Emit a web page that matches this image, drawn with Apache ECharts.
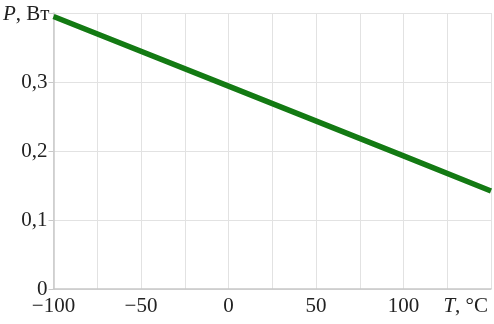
<!DOCTYPE html>
<html><head><meta charset="utf-8">
<script src="https://cdn.jsdelivr.net/npm/echarts@6/dist/echarts.min.js"></script>
<style>html,body{margin:0;padding:0;background:#fff}#c{width:494px;height:324px}</style>
</head><body><div id="c"></div>
<script>
const temps = [-100, 0, 100, 150];
const power = [0.395, 0.294, 0.193, 0.142];
const xLabelValues = [-100, -50, 0, 50, 100];
const yLabelValues = [0, 0.1, 0.2, 0.3];

const chart = echarts.init(document.getElementById('c'), null, {renderer: 'canvas'});
const font = 'Liberation Serif';
const fs = 21;
chart.setOption({
  animation: false,
  grid: {left: 53, right: 3, top: 13, bottom: 35, containLabel: false},
  xAxis: {
    type: 'value', min: -100, max: 150, interval: 25,
    name: '{i|T}, °C', nameLocation: 'end', nameGap: -3,
    nameTextStyle: {fontFamily: font, fontSize: fs, color: '#222', align: 'right', verticalAlign: 'top', padding: [7, 0, 0, 0],
      rich: {i: {fontFamily: font, fontSize: fs, fontStyle: 'italic', color: '#222'}}},
    axisLine: {show: true, onZero: false, lineStyle: {color: '#c8c8c8', width: 1.5}},
    axisTick: {show: false},
    splitLine: {show: true, lineStyle: {color: '#e2e2e2', width: 1}},
    axisLabel: {
      fontFamily: font, fontSize: fs, color: '#222', margin: 7,
      formatter: v => xLabelValues.includes(v) ? String(v).replace('-', '−') : ''
    }
  },
  yAxis: {
    type: 'value', min: 0, max: 0.4, interval: 0.1,
    name: '{i|P}, Вт', nameLocation: 'end', nameGap: -1,
    nameTextStyle: {fontFamily: font, fontSize: fs, color: '#222', align: 'right', verticalAlign: 'middle', padding: [0, 4, 0, 0],
      rich: {i: {fontFamily: font, fontSize: fs, fontStyle: 'italic', color: '#222'}}},
    axisLine: {show: true, onZero: false, lineStyle: {color: '#c8c8c8', width: 1.5}},
    axisTick: {show: true, length: 5, lineStyle: {color: '#c8c8c8'}},
    splitLine: {show: true, lineStyle: {color: '#e2e2e2', width: 1}},
    axisLabel: {
      fontFamily: font, fontSize: fs, color: '#222', margin: 6,
      formatter: v => {
        const r = Math.round(v * 10) / 10;
        return yLabelValues.includes(r) ? (r === 0 ? '0' : r.toFixed(1).replace('.', ',')) : '';
      }
    }
  },
  series: [{
    type: 'line', data: temps.map((t, i) => [t, power[i]]),
    showSymbol: false, lineStyle: {color: '#137a13', width: 5.5}, z: 5
  }]
});
</script></body></html>
